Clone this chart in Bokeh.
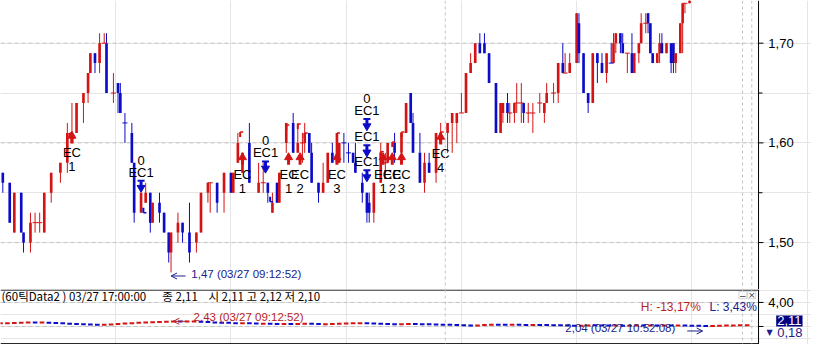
import numpy as np
from bokeh.plotting import figure
from bokeh.models import (Range1d, Span, Label, Arrow, OpenHead,
                          BoxAnnotation, ColumnDataSource)
from bokeh.layouts import column
from bokeh.embed import file_html
from bokeh.resources import INLINE
from bokeh.core.properties import value

# ---------------- main series: 60-tick bars ----------------
tick = [1, 4, 6, 9, 10, 13, 15, 17, 19, 22,
        26, 29, 31, 33, 36, 38, 39, 41, 43, 45,
        46, 49, 51, 52, 54, 57, 58, 61, 63, 65,
        66, 69, 71, 73, 74, 77, 79, 82, 85, 87,
        90, 91, 94, 97, 100, 101, 103, 105, 108, 112,
        114, 116, 118, 120, 121, 124, 127, 129, 131, 132,
        134, 135, 138, 140, 142, 144, 146, 147, 149, 151,
        153, 154, 157, 159, 160, 162, 165, 167, 168, 171,
        174, 176, 178, 179, 182, 184, 186, 189, 191, 194,
        196, 198, 200, 202, 204, 206, 208, 210, 212, 215,
        217, 218, 220, 221, 223, 224, 226, 227, 229, 231,
        234, 236, 237, 240, 242, 244, 245, 247, 250, 251,
        253, 255, 257, 259, 261, 263, 265, 266, 267, 269,
        270, 272, 274, 275, 277, 278, 280, 281, 282, 283,
        285, 286, 287, 289, 291, 292, 293, 295, 296, 297,
        299]
open_ = [1.57, 1.56, 1.51, 1.55, 1.51, 1.50, 1.52, 1.52, 1.51, 1.55,
         1.57, 1.58, 1.60, 1.61, 1.64, 1.65, 1.67, 1.69, 1.68, 1.70,
         1.70, 1.65, 1.66, 1.65, 1.62, 1.61, 1.58, 1.53, 1.54, 1.55,
         1.52, 1.54, 1.53, 1.51, 1.49, 1.51, 1.52, 1.51, 1.50, 1.51,
         1.55, 1.56, 1.56, 1.55, 1.57, 1.55, 1.58, 1.57, 1.60, 1.55,
         1.56, 1.56, 1.53, 1.56, 1.54, 1.60, 1.62, 1.59, 1.60, 1.60,
         1.61, 1.59, 1.56, 1.55, 1.56, 1.59, 1.58, 1.58, 1.60, 1.59,
         1.59, 1.58, 1.56, 1.55, 1.54, 1.53, 1.56, 1.58, 1.58, 1.60,
         1.59, 1.61, 1.65, 1.62, 1.59, 1.56, 1.58, 1.57, 1.60, 1.61,
         1.62, 1.62, 1.63, 1.63, 1.67, 1.68, 1.70, 1.70, 1.69, 1.66,
         1.61, 1.63, 1.64, 1.63, 1.63, 1.64, 1.64, 1.64, 1.63, 1.63,
         1.64, 1.63, 1.64, 1.65, 1.65, 1.68, 1.67, 1.67, 1.68, 1.72,
         1.69, 1.65, 1.64, 1.69, 1.68, 1.67, 1.68, 1.68, 1.70, 1.71,
         1.70, 1.69, 1.69, 1.67, 1.69, 1.70, 1.72, 1.73, 1.72, 1.69,
         1.68, 1.69, 1.70, 1.69, 1.70, 1.70, 1.68, 1.69, 1.72, 1.74,
         1.74]
high = [1.57, 1.56, 1.55, 1.55, 1.51, 1.53, 1.53, 1.53, 1.55, 1.57,
        1.58, 1.62, 1.64, 1.64, 1.65, 1.67, 1.69, 1.69, 1.71, 1.71,
        1.71, 1.67, 1.66, 1.66, 1.63, 1.62, 1.58, 1.55, 1.56, 1.55,
        1.54, 1.55, 1.53, 1.51, 1.51, 1.53, 1.52, 1.54, 1.51, 1.55,
        1.56, 1.56, 1.56, 1.57, 1.57, 1.57, 1.61, 1.59, 1.62, 1.58,
        1.58, 1.56, 1.55, 1.56, 1.57, 1.62, 1.63, 1.62, 1.61, 1.62,
        1.61, 1.60, 1.56, 1.58, 1.59, 1.60, 1.61, 1.60, 1.61, 1.60,
        1.59, 1.60, 1.57, 1.55, 1.55, 1.56, 1.60, 1.59, 1.60, 1.61,
        1.61, 1.64, 1.65, 1.63, 1.61, 1.59, 1.59, 1.61, 1.62, 1.62,
        1.63, 1.63, 1.65, 1.67, 1.69, 1.70, 1.71, 1.71, 1.69, 1.66,
        1.64, 1.64, 1.65, 1.64, 1.64, 1.66, 1.66, 1.64, 1.64, 1.64,
        1.65, 1.64, 1.66, 1.66, 1.68, 1.70, 1.69, 1.69, 1.73, 1.73,
        1.69, 1.65, 1.69, 1.69, 1.69, 1.69, 1.70, 1.71, 1.71, 1.71,
        1.71, 1.69, 1.71, 1.69, 1.70, 1.73, 1.73, 1.73, 1.72, 1.69,
        1.69, 1.71, 1.71, 1.70, 1.70, 1.70, 1.69, 1.72, 1.74, 1.74,
        1.75]
low = [1.55, 1.52, 1.51, 1.51, 1.49, 1.49, 1.51, 1.51, 1.51, 1.54,
       1.56, 1.57, 1.60, 1.61, 1.62, 1.64, 1.67, 1.67, 1.67, 1.70,
       1.65, 1.64, 1.63, 1.63, 1.60, 1.58, 1.52, 1.53, 1.54, 1.51,
       1.52, 1.52, 1.51, 1.48, 1.47, 1.50, 1.50, 1.48, 1.49, 1.51,
       1.54, 1.53, 1.53, 1.53, 1.55, 1.55, 1.58, 1.57, 1.56, 1.55,
       1.55, 1.54, 1.53, 1.54, 1.54, 1.59, 1.59, 1.59, 1.58, 1.59,
       1.59, 1.56, 1.54, 1.55, 1.56, 1.58, 1.58, 1.58, 1.58, 1.58,
       1.58, 1.57, 1.54, 1.52, 1.52, 1.52, 1.56, 1.57, 1.58, 1.58,
       1.59, 1.61, 1.62, 1.59, 1.56, 1.55, 1.57, 1.56, 1.60, 1.59,
       1.59, 1.60, 1.63, 1.63, 1.67, 1.68, 1.69, 1.69, 1.66, 1.61,
       1.61, 1.62, 1.62, 1.62, 1.62, 1.63, 1.62, 1.62, 1.62, 1.61,
       1.63, 1.62, 1.64, 1.64, 1.64, 1.67, 1.67, 1.67, 1.68, 1.68,
       1.65, 1.63, 1.64, 1.66, 1.67, 1.66, 1.68, 1.68, 1.69, 1.69,
       1.69, 1.67, 1.67, 1.67, 1.68, 1.70, 1.71, 1.71, 1.69, 1.68,
       1.68, 1.68, 1.69, 1.69, 1.67, 1.67, 1.67, 1.69, 1.69, 1.73,
       1.74]
close = [1.56, 1.52, 1.55, 1.51, 1.50, 1.52, 1.52, 1.52, 1.55, 1.57,
         1.58, 1.61, 1.61, 1.64, 1.65, 1.67, 1.69, 1.68, 1.70, 1.70,
         1.65, 1.65, 1.65, 1.63, 1.62, 1.58, 1.53, 1.55, 1.55, 1.52,
         1.54, 1.53, 1.51, 1.49, 1.51, 1.52, 1.51, 1.49, 1.51, 1.55,
         1.56, 1.56, 1.54, 1.57, 1.55, 1.57, 1.60, 1.59, 1.56, 1.56,
         1.56, 1.55, 1.54, 1.54, 1.57, 1.62, 1.59, 1.60, 1.60, 1.61,
         1.59, 1.56, 1.55, 1.56, 1.59, 1.58, 1.61, 1.60, 1.60, 1.59,
         1.58, 1.57, 1.55, 1.53, 1.53, 1.56, 1.59, 1.58, 1.60, 1.59,
         1.61, 1.64, 1.62, 1.59, 1.56, 1.58, 1.57, 1.61, 1.61, 1.62,
         1.63, 1.63, 1.63, 1.67, 1.68, 1.70, 1.69, 1.69, 1.66, 1.61,
         1.64, 1.64, 1.63, 1.63, 1.64, 1.64, 1.64, 1.63, 1.63, 1.63,
         1.64, 1.64, 1.65, 1.65, 1.68, 1.67, 1.67, 1.68, 1.73, 1.69,
         1.65, 1.64, 1.69, 1.68, 1.67, 1.69, 1.68, 1.70, 1.71, 1.70,
         1.69, 1.69, 1.67, 1.69, 1.70, 1.72, 1.72, 1.72, 1.69, 1.68,
         1.69, 1.70, 1.69, 1.70, 1.68, 1.68, 1.69, 1.72, 1.74, 1.74,
         1.75]
updown = list("BBRBBRRRRR" "RRRRRRRBRR" "BRBBBBBRRB" "RBBBRRBBRR" "RRBRBRRRBR"
              "RBRBRRBRRR" "BBBRRBRRBB" "BBBBBRRRRB" "RRBBBRBRRR" "RRRRRRBBBB"
              "RRBRRRRBRR" "RRRRRBRRRB" "BBRBBRBRRB" "BRBRRRRBBB" "RRBRBBRRRR" "R")

# ---------------- signals ----------------
buy_tick = [31, 105, 125, 130, 146, 166, 170, 174, 191]
buy_price = [1.6095, 1.588, 1.588, 1.588, 1.588, 1.588, 1.588, 1.588, 1.6085]
buy_no = ["1", "1", "1", "2", "3", "1", "2", "3", "4"]
sell_tick = [61, 115, 159, 159, 159]
sell_price = [1.5525, 1.5718, 1.6143, 1.588, 1.5631]
sell_zero = ["0", "0", "0", "", ""]
# small entry flags on bar tops (red) and bottoms (blue)
flag_up_tick = [30, 104, 124, 129, 132, 146, 165, 170, 174, 191]
flag_up_price = [1.610, 1.611, 1.618, 1.619, 1.610, 1.610, 1.591, 1.601, 1.611, 1.611]
flag_dn_tick = [62, 117]
flag_dn_price = [1.530, 1.541]

# ---------------- lower pane: Data2 ----------------
d2_close = [2.26, 2.27, 2.30, 2.33, 2.34, 2.32, 2.33, 2.30, 2.28, 2.25, 2.22,
            2.20, 2.17, 2.15, 2.14, 2.16, 2.18, 2.22, 2.26, 2.29, 2.31, 2.34, 2.37, 2.39, 2.41,
            2.43, 2.40, 2.41, 2.42, 2.38, 2.35, 2.33, 2.31, 2.29,
            2.26, 2.27, 2.25, 2.23, 2.24, 2.22, 2.20, 2.21, 2.19, 2.22, 2.23, 2.21, 2.19, 2.20, 2.22, 2.24, 2.25,
            2.27, 2.28, 2.25, 2.23, 2.21, 2.20, 2.18, 2.21, 2.22, 2.20, 2.18, 2.17, 2.15,
            2.14, 2.13, 2.11, 2.09, 2.08, 2.10, 2.13, 2.15, 2.14, 2.13, 2.14, 2.13, 2.12, 2.13, 2.12, 2.11, 2.10,
            2.09, 2.07, 2.06, 2.08, 2.10, 2.09, 2.08, 2.07, 2.08, 2.06, 2.07, 2.08, 2.07, 2.08, 2.07,
            2.08, 2.07, 2.09, 2.07, 2.06, 2.05, 2.04, 2.05, 2.07, 2.08, 2.09, 2.10, 2.11]
d2_tick = list(range(0, 3 * len(d2_close), 3))

session_breaks = [193, 322, 326]
price_ticks = [1.50, 1.60, 1.70]
price_minor = [1.55, 1.65]
ind_ticks = [2.0, 4.0]
ind_labels = ["", "4,00"]

low_time = "03/27 09:12:52"
d2_max_time = "03/27 09:12:52"
d2_min_time = "03/27 10:52:08"
header_1 = "(60틱Data2 ) 03/27 17:00:00"
header_2 = "종 2,11"
header_3 = "시 2,11 고 2,12 저 2,10"
hl_high = "H: -13,17%"
hl_low = "L: 3,43%"
last_value = "2,11"
last_change = "0,18"

RED = "#d41414"
BLUE = "#0c0cc8"
NAVY = "#20208c"
DRED = "#b81e1e"
GRID = "#c4c4c4"
SANS = "Liberation Sans"
KR = "Noto Sans CJK KR"


def fmt(v):
    return f"{v:.2f}".replace(".", ",")


# helpers: reference-pixel layout -> data units
PX_T = 2.35
def tx(px):
    return px / PX_T
def py(y):
    return 1.70 - (y - 44.3) / 1035.0
def vy(y):
    return 4.0 - (y - 314.0) * 2.0 / 26.0


W = 811
FH1 = 289
FH2 = 55
x_rng = Range1d(0, tx(827))
AX = tx(773)          # position of the price axis line
y1 = Range1d(py(300), py(0))
K = FH1 / (y1.end - y1.start)  # screen px per price unit
def dp(px):
    return px / K
TPX = (x_rng.end - x_rng.start) / W  # ticks per screen px


def base_fig(h, yr):
    f = figure(frame_width=W, frame_height=h, x_range=x_rng, y_range=yr,
               x_axis_location=None, y_axis_location=None,
               output_backend="svg", toolbar_location=None,
               min_border_left=0, min_border_right=0, min_border_top=0, min_border_bottom=0)
    f.outline_line_color = None
    f.background_fill_color = "white"
    f.border_fill_color = "white"
    for s in session_breaks:
        f.add_layout(Span(location=s, dimension="height", line_color=GRID, line_dash="3 3", line_width=1))
    f.add_layout(Span(location=AX, dimension="height", line_color="black", line_width=1))
    return f


def tag(**kw):
    try:
        return Label(padding=1, **kw)
    except Exception:
        return Label(**kw)


# ================= main pane =================
p1 = base_fig(FH1, y1)
p1.segment(x0=0, y0=price_ticks, x1=AX, y1=price_ticks, line_color=GRID, line_dash="4 3", line_width=1)
p1.segment(x0=AX, y0=price_ticks, x1=AX + tx(5), y1=price_ticks, line_color="black", line_width=1)
p1.segment(x0=AX, y0=price_minor, x1=AX + tx(4), y1=price_minor, line_color="black", line_width=1)
p1.text(x=AX + tx(10), y=price_ticks, text=[fmt(v) for v in price_ticks],
        text_font=value(SANS), text_font_size="13px", text_color="black",
        text_baseline="middle", text_align="left")

n = len(tick)
col = [RED if u == "R" else BLUE for u in updown]
wsrc = ColumnDataSource(dict(t=tick, h=high, l=low, col=col))
p1.segment("t", "h", "t", "l", source=wsrc, line_color="col", line_width=1)

bi = [i for i in range(n) if open_[i] != close[i]]
bsrc = ColumnDataSource(dict(t=[tick[i] for i in bi],
                             top=[max(open_[i], close[i]) for i in bi],
                             bot=[min(open_[i], close[i]) for i in bi],
                             col=[col[i] for i in bi]))
p1.vbar(x="t", width=1.15, top="top", bottom="bot", source=bsrc, fill_color="col", line_color=None)

di = [i for i in range(n) if open_[i] == close[i]]
dsrc = ColumnDataSource(dict(t=[tick[i] for i in di], y=[close[i] for i in di], col=[col[i] for i in di]))
p1.scatter("t", "y", source=dsrc, marker="dash", size=5, line_color="col", line_width=1)

# entry flags
fu = ColumnDataSource(dict(t=flag_up_tick, y=flag_up_price,
                           y1=[p - dp(5) for p in flag_up_price],
                           t1=[t + 3 * TPX for t in flag_up_tick]))
p1.segment("t", "y", "t", "y1", source=fu, line_color=RED, line_width=2)
p1.segment("t", "y", "t1", "y", source=fu, line_color=RED, line_width=1.5)
fd = ColumnDataSource(dict(t=flag_dn_tick, y=flag_dn_price,
                           y1=[p + dp(5) for p in flag_dn_price],
                           t1=[t + 3 * TPX for t in flag_dn_tick]))
p1.segment("t", "y", "t", "y1", source=fd, line_color=BLUE, line_width=2)
p1.segment("t", "y", "t1", "y", source=fd, line_color=BLUE, line_width=1.5)

# buy signals
bs = ColumnDataSource(dict(t=buy_tick, y=buy_price, no=buy_no,
                           head=[p - dp(2.5) for p in buy_price],
                           s0=[p - dp(4) for p in buy_price],
                           s1=[p - dp(10) for p in buy_price]))
p1.segment("t", "s0", "t", "s1", source=bs, line_color=RED, line_width=3)
p1.scatter("t", "head", source=bs, marker="triangle", size=8, fill_color=RED, line_color=RED)
p1.text("t", "y", text=value("EC"), source=bs, text_font=value(SANS), text_font_size="13px",
        text_color="black", text_align="center", text_baseline="middle", y_offset=19.5)
p1.text("t", "y", text="no", source=bs, text_font=value(SANS), text_font_size="13px",
        text_color="black", text_align="center", text_baseline="middle", y_offset=33.5)

# sell signals
ss = ColumnDataSource(dict(t=sell_tick, y=sell_price, z=sell_zero,
                           head=[p + dp(2.5) for p in sell_price],
                           s0=[p + dp(4) for p in sell_price],
                           s1=[p + dp(9) for p in sell_price],
                           cap=[p + dp(9.5) for p in sell_price]))
p1.segment("t", "s0", "t", "s1", source=ss, line_color=BLUE, line_width=3)
p1.scatter("t", "head", source=ss, marker="inverted_triangle", size=8, fill_color=BLUE, line_color=BLUE)
p1.scatter("t", "cap", source=ss, marker="dash", size=7, line_color=BLUE, line_width=2)
p1.text("t", "y", text=value("EC1"), source=ss, text_font=value(SANS), text_font_size="13px",
        text_color="black", text_align="center", text_baseline="middle", y_offset=-18)
p1.text("t", "y", text="z", source=ss, text_font=value(SANS), text_font_size="13px",
        text_color="black", text_align="center", text_baseline="middle", y_offset=-30)

# lowest low annotation
i_low = int(np.argmin(low))
t_low, p_low = tick[i_low], low[i_low]
p1.add_layout(Arrow(end=OpenHead(size=6, line_color=NAVY, line_width=1),
                    x_start=t_low + 6.3, y_start=p_low - dp(3.5), x_end=t_low, y_end=p_low - dp(3.5),
                    line_color=NAVY, line_width=1))
p1.add_layout(Label(x=t_low + 8.8, y=p_low - dp(1.5), text=f"{fmt(p_low)} ({low_time})",
                    text_font=SANS, text_font_size="11.5px", text_color=NAVY, text_baseline="middle"))

# ================= lower pane =================
p2 = base_fig(FH2, Range1d(vy(359.5), vy(300)))
V = (vy(300) - vy(359.5)) / FH2  # value per screen px
p2.segment(x0=0, y0=[vy(300.6), vy(358.6)], x1=AX, y1=[vy(300.6), vy(358.6)], line_color="black", line_width=1)
p2.segment(x0=0, y0=ind_ticks, x1=AX, y1=ind_ticks, line_color=GRID, line_dash="4 3", line_width=1)
p2.segment(x0=AX, y0=ind_ticks, x1=AX + tx(5), y1=ind_ticks, line_color="black", line_width=1)
p2.text(x=AX + tx(10), y=ind_ticks, text=ind_labels,
        text_font=value(SANS), text_font_size="13px", text_color="black",
        text_baseline="middle", text_align="left")

d2_open = [d2_close[0]] + d2_close[:-1]
d2_col = [RED if c >= o else BLUE for o, c in zip(d2_open, d2_close)]
d2src = ColumnDataSource(dict(t=d2_tick, y=[(o + c) / 2 for o, c in zip(d2_open, d2_close)], col=d2_col))
p2.rect(x="t", y="y", width=2.0, height=2, height_units="screen", source=d2src,
        fill_color="col", line_color=None)

i_max = int(np.argmax(d2_close))
t_max, v_max = d2_tick[i_max], d2_close[i_max]
p2.add_layout(Arrow(end=OpenHead(size=6, line_color=DRED, line_width=1),
                    x_start=t_max + 6.3, y_start=v_max, x_end=t_max, y_end=v_max,
                    line_color=DRED, line_width=1))
p2.add_layout(Label(x=t_max + 8.8, y=v_max + 4 * V, text=f"{fmt(v_max)} ({d2_max_time})",
                    text_font=SANS, text_font_size="11.5px", text_color=DRED, text_baseline="middle"))
i_min = int(np.argmin(d2_close))
t_min, v_min = d2_tick[i_min], d2_close[i_min]
p2.add_layout(Arrow(end=OpenHead(size=6, line_color=NAVY, line_width=1),
                    x_start=t_min - 8, y_start=v_min - 5 * V, x_end=t_min - 1.3, y_end=v_min - 5 * V,
                    line_color=NAVY, line_width=1))
p2.add_layout(Label(x=t_min - 13.2, y=v_min - 2.5 * V, text=f"{fmt(v_min)} ({d2_min_time})",
                    text_font=SANS, text_font_size="11.5px", text_color=NAVY,
                    text_baseline="middle", text_align="right"))

# header texts
for px, txt in [(1, header_1), (165, header_2), (212, header_3)]:
    p2.add_layout(Label(x=tx(px), y=vy(307.5), text=txt, text_font=KR, text_font_size="11.5px",
                        text_color="black", text_baseline="middle"))
p2.add_layout(Label(x=tx(653), y=vy(319), text=hl_high, text_font=SANS, text_font_size="12px",
                    text_color=DRED, text_baseline="middle"))
p2.add_layout(Label(x=tx(723), y=vy(319), text=hl_low, text_font=SANS, text_font_size="12px",
                    text_color=NAVY, text_baseline="middle"))

# pane buttons
for l, r, sym in [(753, 761, "−"), (762, 770, "×")]:
    p2.add_layout(BoxAnnotation(left=tx(l), right=tx(r), bottom=vy(310), top=vy(302),
                                fill_color="white", fill_alpha=1, line_color="#7a7a7a", line_width=1))
    p2.add_layout(Label(x=tx((l + r) / 2), y=vy(306), text=sym, text_font="DejaVu Sans",
                        text_font_size="9px", text_color="#404040", text_align="center",
                        text_baseline="middle"))

# current value tags on the right
p2.add_layout(tag(x=tx(791), y=vy(334), text=last_value, text_font=SANS, text_font_size="13px",
                  text_color="white", background_fill_color="#000080", text_baseline="middle"))
p2.add_layout(Label(x=tx(792), y=vy(346), text=last_change, text_font=SANS, text_font_size="13px",
                    text_color=NAVY, text_baseline="middle"))
p2.add_layout(Label(x=tx(781), y=vy(346), text="▼", text_font="DejaVu Sans", text_font_size="8px",
                    text_color=NAVY, text_baseline="middle"))

layout = column(p1, p2, spacing=0)
open("out.html", "w").write(file_html(layout, INLINE))
